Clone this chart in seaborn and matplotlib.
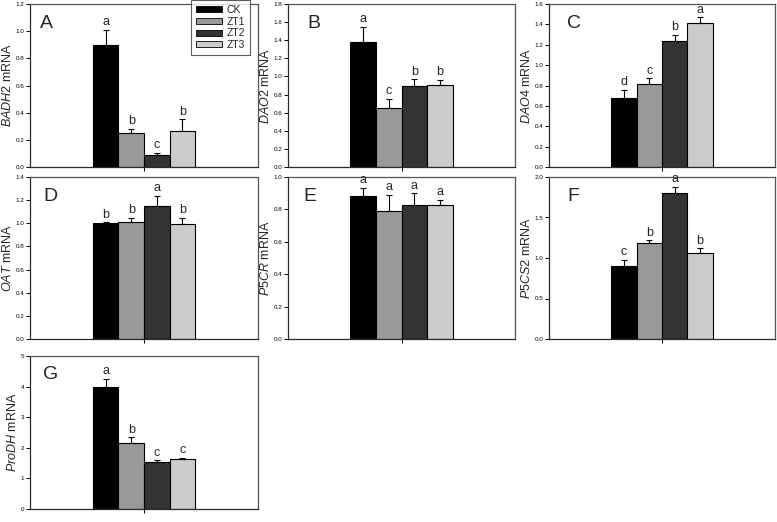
import pandas as pd
import matplotlib.pyplot as plt
import seaborn as sns

# treatments and bar colours
GROUPS = ["CK", "ZT1", "ZT2", "ZT3"]
COLORS = ["#000000", "#999999", "#333333", "#cccccc"]

# gene panels
PANELS = ["A", "B", "C", "D", "E", "F", "G"]
GENES = ["BADH2", "DAO2", "DAO4", "OAT", "P5CR", "P5CS2", "ProDH"]

# relative expression (mean) per panel, in GROUPS order
BADH2_MEAN = [0.90, 0.25, 0.085, 0.265]
DAO2_MEAN = [1.38, 0.65, 0.90, 0.91]
DAO4_MEAN = [0.68, 0.81, 1.24, 1.41]
OAT_MEAN = [1.00, 1.01, 1.15, 0.995]
P5CR_MEAN = [0.885, 0.79, 0.83, 0.83]
P5CS2_MEAN = [0.90, 1.18, 1.80, 1.06]
PRODH_MEAN = [4.00, 2.15, 1.53, 1.62]

# standard errors
BADH2_ERR = [0.11, 0.03, 0.02, 0.085]
DAO2_ERR = [0.17, 0.10, 0.07, 0.05]
DAO4_ERR = [0.08, 0.06, 0.06, 0.06]
OAT_ERR = [0.01, 0.04, 0.09, 0.05]
P5CR_ERR = [0.05, 0.10, 0.07, 0.03]
P5CS2_ERR = [0.08, 0.04, 0.08, 0.06]
PRODH_ERR = [0.25, 0.20, 0.07, 0.05]

# significance letters
BADH2_SIG = ["a", "b", "c", "b"]
DAO2_SIG = ["a", "c", "b", "b"]
DAO4_SIG = ["d", "c", "b", "a"]
OAT_SIG = ["b", "b", "a", "b"]
P5CR_SIG = ["a", "a", "a", "a"]
P5CS2_SIG = ["c", "b", "a", "b"]
PRODH_SIG = ["a", "b", "c", "c"]

# y axis range and tick step
Y_MAX = [1.2, 1.8, 1.6, 1.4, 1.0, 2.0, 5]
Y_STEP = [0.2, 0.2, 0.2, 0.2, 0.2, 0.5, 1]
Y_FMT = ["{:.1f}"] * 6 + ["{:.0f}"]

MEANS = [BADH2_MEAN, DAO2_MEAN, DAO4_MEAN, OAT_MEAN, P5CR_MEAN, P5CS2_MEAN, PRODH_MEAN]
ERRS = [BADH2_ERR, DAO2_ERR, DAO4_ERR, OAT_ERR, P5CR_ERR, P5CS2_ERR, PRODH_ERR]
SIGS = [BADH2_SIG, DAO2_SIG, DAO4_SIG, OAT_SIG, P5CR_SIG, P5CS2_SIG, PRODH_SIG]

W, H = 777, 522
# axes boxes in pixels: left, top, width, height
BOXES = [
    (30, 4, 228, 163), (288, 4, 227, 163), (549, 4, 226, 163),
    (30, 177, 228, 162), (288, 177, 227, 162), (549, 177, 226, 162),
    (30, 356, 228, 153),
]
# panel letter x offsets (axes fraction)
LETTER_X = [0.045, 0.084, 0.08, 0.057, 0.066, 0.08, 0.057]

sns.set_style("ticks")
plt.rcParams["font.family"] = ["Liberation Sans", "DejaVu Sans"]
plt.rcParams["mathtext.fontset"] = "custom"
plt.rcParams["mathtext.it"] = "Liberation Sans:italic"
plt.rcParams["mathtext.rm"] = "Liberation Sans"

fig = plt.figure(figsize=(W / 100, H / 100), dpi=100)

for i, panel in enumerate(PANELS):
    l, t, w, h = BOXES[i]
    ax = fig.add_axes([l / W, 1 - (t + h) / H, w / W, h / H])
    df = pd.DataFrame({"x": ["g"] * 4, "group": GROUPS, "value": MEANS[i]})
    sns.barplot(data=df, x="x", y="value", hue="group", hue_order=GROUPS,
                palette=COLORS, width=0.45, edgecolor="black", linewidth=0.8,
                errorbar=None, legend=False, ax=ax)

    bar_sets = list(ax.containers)
    for j, cont in enumerate(bar_sets):
        bar = cont.patches[0]
        xc = bar.get_x() + bar.get_width() / 2
        top = MEANS[i][j] + ERRS[i][j]
        ax.errorbar(xc, MEANS[i][j], yerr=[[0], [ERRS[i][j]]], fmt="none",
                    ecolor="black", elinewidth=0.8, capsize=2.5, capthick=0.8)
        ax.text(xc, top + Y_MAX[i] * 0.01, SIGS[i][j], ha="center", va="bottom",
                fontsize=9)

    ax.set_xlim(-0.5, 0.5)
    ax.set_ylim(0, Y_MAX[i])
    n = int(round(Y_MAX[i] / Y_STEP[i]))
    ticks = [k * Y_STEP[i] for k in range(n + 1)]
    ax.set_yticks(ticks)
    ax.set_yticklabels([Y_FMT[i].format(v) for v in ticks], fontsize=4.5)
    ax.set_xticks([0])
    ax.set_xticklabels([""])
    ax.tick_params(axis="both", direction="out", length=3, width=0.7, pad=1,
                   colors="black")
    ax.set_xlabel("")
    ax.set_ylabel(r"$\mathit{" + GENES[i] + "}$ mRNA", fontsize=9, labelpad=1.5)
    for side in ["top", "right"]:
        ax.spines[side].set_visible(True)
        ax.spines[side].set_color("#555555")
    for side in ["left", "bottom"]:
        ax.spines[side].set_color("#2a2a2a")
    for sp in ax.spines.values():
        sp.set_linewidth(0.9)

    ax.text(LETTER_X[i], 0.88, panel, transform=ax.transAxes, fontsize=14,
            ha="left", va="center")

    if i == 0:
        handles = [plt.Rectangle((0, 0), 1, 1, facecolor=c, edgecolor="black",
                                 linewidth=0.6) for c in COLORS]
        leg = ax.legend(handles, GROUPS, loc="upper right", fontsize=7.5,
                        frameon=True, fancybox=False, edgecolor="#333333",
                        handlelength=2.5, handleheight=0.5, borderpad=0.5,
                        labelspacing=0.15, handletextpad=0.4,
                        borderaxespad=0.0, bbox_to_anchor=(0.965, 1.025))
        leg.get_frame().set_linewidth(0.8)

fig.savefig("out.png", dpi=100)
